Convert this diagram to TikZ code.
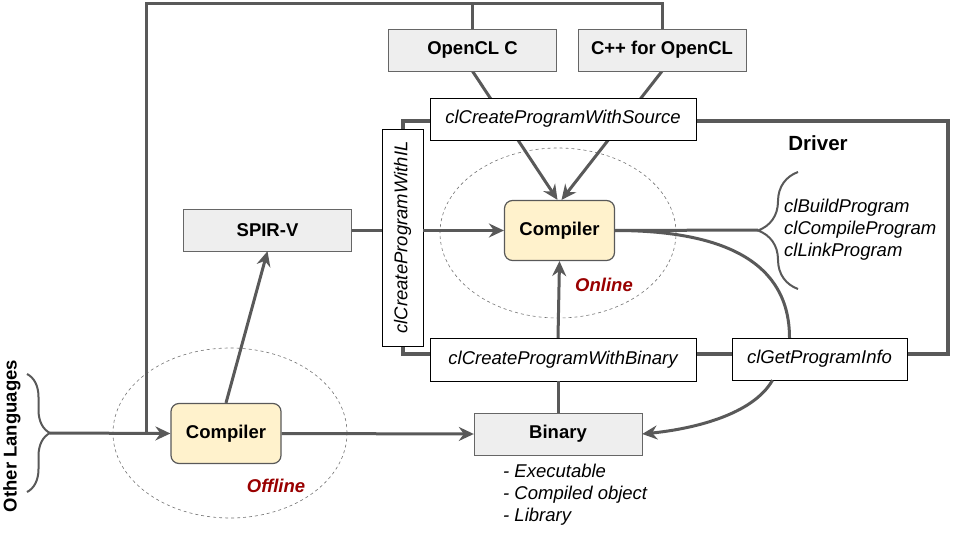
\documentclass[tikz,border=0pt]{standalone}
\usepackage{fontspec}
\setmainfont{Liberation Sans}
\usepackage{xcolor}
\usetikzlibrary{positioning, arrows.meta, decorations.pathreplacing, backgrounds}

\definecolor{linegray}{HTML}{595959}
\definecolor{boxgray}{HTML}{EEEEEE}
\definecolor{compfill}{HTML}{FFF2CC}
\definecolor{zonered}{HTML}{990000}

\tikzset{
  graybox/.style={draw=black!60, fill=boxgray, minimum width=168pt, minimum height=42pt,
    inner sep=0pt, font=\fontsize{18.5}{22}\selectfont\bfseries},
  apibox/.style={draw=black, fill=white, minimum height=42pt, inner sep=0pt,
    font=\fontsize{18.5}{22}\selectfont\itshape},
  compbox/.style={draw=black!65, fill=compfill, rounded corners=8pt, line width=1.2pt,
    minimum width=110pt, minimum height=60pt, inner sep=0pt,
    font=\fontsize{18.5}{22}\selectfont\bfseries},
  conn/.style={draw=linegray, line width=3pt},
  arr/.style={conn, -{Stealth[length=15pt, width=14pt, inset=5pt]}},
  zone/.style={draw=black!55, dashed, line width=0.6pt},
  curly/.style={draw=linegray, line width=2pt, decorate},
  zonelabel/.style={text=zonered, font=\fontsize{18.5}{22}\selectfont\bfseries\itshape},
  plain/.style={align=left, inner sep=0pt, font=\fontsize{18.5}{22}\selectfont\itshape}
}

\begin{document}
\begin{tikzpicture}[x=1pt, y=-1pt]
\useasboundingbox (0,0) rectangle (960,540);

% boxes
\node[graybox] (oclc) at (472.5,50) {OpenCL C};
\node[graybox] (cpp) at (662,50) {C++ for OpenCL};
\node[apibox, minimum width=266pt] (src) at (563,119) {clCreateProgramWithSource};
\node[apibox, rotate=90, minimum width=217pt, minimum height=41pt] (il) at (402.5,237.5) {clCreateProgramWithIL};
\node[graybox] (spirv) at (267.5,230) {SPIR-V};
\node[compbox] (conl) at (559.5,230.5) {Compiler};
\node[apibox, minimum width=266pt, minimum height=43pt] (bin) at (563,359.5) {clCreateProgramWithBinary};
\node[apibox, minimum width=175pt] (info) at (819.5,359) {clGetProgramInfo};
\node[graybox] (binary) at (558,434) {Binary};
\node[compbox] (coff) at (226,433.5) {Compiler};

% labels
\node[font=\fontsize{20.5}{24}\selectfont\bfseries] (driver) at (818,143) {Driver};
\node[plain, anchor=west] (calls) at (784,230) {clBuildProgram\\clCompileProgram\\clLinkProgram};
\node[plain, anchor=west] (kinds) at (503,495) {- Executable\\- Compiled object\\- Library};
\node[zonelabel] (online) at (604,285) {Online};
\node[zonelabel] (offline) at (276,486) {Offline};
\node[rotate=90, font=\fontsize{18.5}{22}\selectfont\bfseries] (olang) at (12,436) {Other Languages};

\coordinate (top) at (146,4);
\coordinate (ltip) at (50,433);
\coordinate (rtip) at (758,230);

\begin{scope}[on background layer]
\draw[zone] (558,233) ellipse [x radius=118pt, y radius=85pt];
\draw[zone] (230,433) ellipse [x radius=117pt, y radius=85pt];
\draw[draw=linegray, line width=4pt] (403,121) rectangle (948,354); % driver
\draw[conn] (cpp.north) |- (top) -- (top |- coff.west);
\draw[conn] (oclc.north) -- (oclc.north |- top);
\draw[arr] (oclc.south) -- ([xshift=-2pt]conl.north);
\draw[arr] (cpp.south) -- ([xshift=2pt]conl.north);
\end{scope}

% connectors
\draw[curly, decoration={brace, amplitude=40pt}] (798,289) -- (798,172);
\draw[curly, decoration={brace, amplitude=23pt}] (27,374) -- (27,492);
\draw[arr] (ltip) -- (coff.west);
\draw[arr] (coff.north) -- (spirv.south);
\draw[arr] (coff.east) -- (binary.west);
\draw[conn] (spirv.east) -- (spirv.east -| il.north);
\draw[arr] (conl.west -| il.south) -- (conl.west);
\draw[conn] (binary.north) -- (binary.north |- bin.south);
\draw[arr] (bin.north -| binary.north) -- (conl.south);
\draw[conn] (conl.east) -- (rtip);
\draw[conn] (conl.east) .. controls +(110,0) and +(0,-75) .. ([xshift=-30pt]info.north);
\draw[arr] ([xshift=-47pt]info.south) .. controls +(-20,35) and +(50,-5) .. (binary.east);
\end{tikzpicture}
\end{document}
